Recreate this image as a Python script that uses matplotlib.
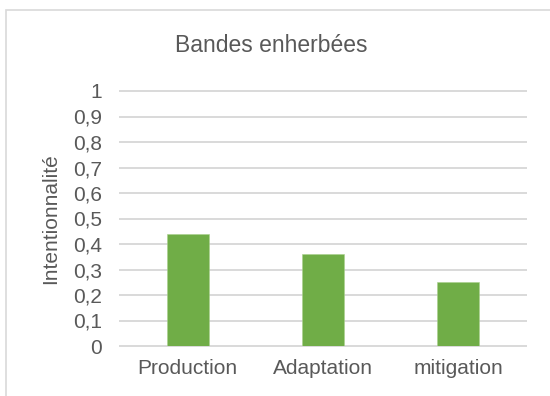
import matplotlib
matplotlib.use("Agg")
import matplotlib.pyplot as plt
from matplotlib.patches import Rectangle
import numpy as np

categories = ["Production", "Adaptation", "mitigation"]
values = [0.44, 0.36, 0.25]
yticks = [0, 0.1, 0.2, 0.3, 0.4, 0.5, 0.6, 0.7, 0.8, 0.9, 1]
ytick_labels = ["0", "0,1", "0,2", "0,3", "0,4", "0,5", "0,6", "0,7", "0,8", "0,9", "1"]
title = "Bandes enherbées"
ylabel = "Intentionnalité"

text_col = "#595959"
grid_col = "#d9d9d9"
bar_col = "#70ad47"

plt.rcParams['font.family'] = ['Liberation Sans', 'DejaVu Sans']

fig = plt.figure(figsize=(5.5, 3.96), dpi=100)
W, H = 550.0, 396.0

# chart frame (Excel-style border)
fig.patches.append(Rectangle((5.5 / W, -0.1), 1.2, 1.1 - 9.5 / H,
                             transform=fig.transFigure, fill=False,
                             edgecolor=grid_col, linewidth=1.2))

ax = fig.add_axes([120 / W, 1 - 346 / H, 406 / W, 255 / H])
x = np.arange(len(categories))
ax.bar(x, values, width=0.31, color=bar_col, edgecolor="#a9d08e", linewidth=0.4, zorder=3)

ax.set_xlim(-0.5, len(categories) - 0.5)
ax.set_ylim(0, 1)
for t in yticks:
    ax.axhline(t, color=grid_col, linewidth=1.4, zorder=1, clip_on=False)

ax.set_yticks(yticks)
ax.set_yticklabels(ytick_labels)
ax.set_xticks(x)
ax.set_xticklabels(categories)
ax.tick_params(axis="y", length=0, pad=13, labelsize=15, labelcolor=text_col)
ax.tick_params(axis="x", length=0, pad=9, labelsize=15, labelcolor=text_col)
for s in ax.spines.values():
    s.set_visible(False)

ax.set_ylabel(ylabel, fontsize=15, color=text_col)
ax.yaxis.set_label_coords(-0.148, 0.5)

fig.text(271 / W, 1 - 45 / H, title, ha="center", va="center", fontsize=16.5, color=text_col)

fig.savefig("out.png", dpi=100)
